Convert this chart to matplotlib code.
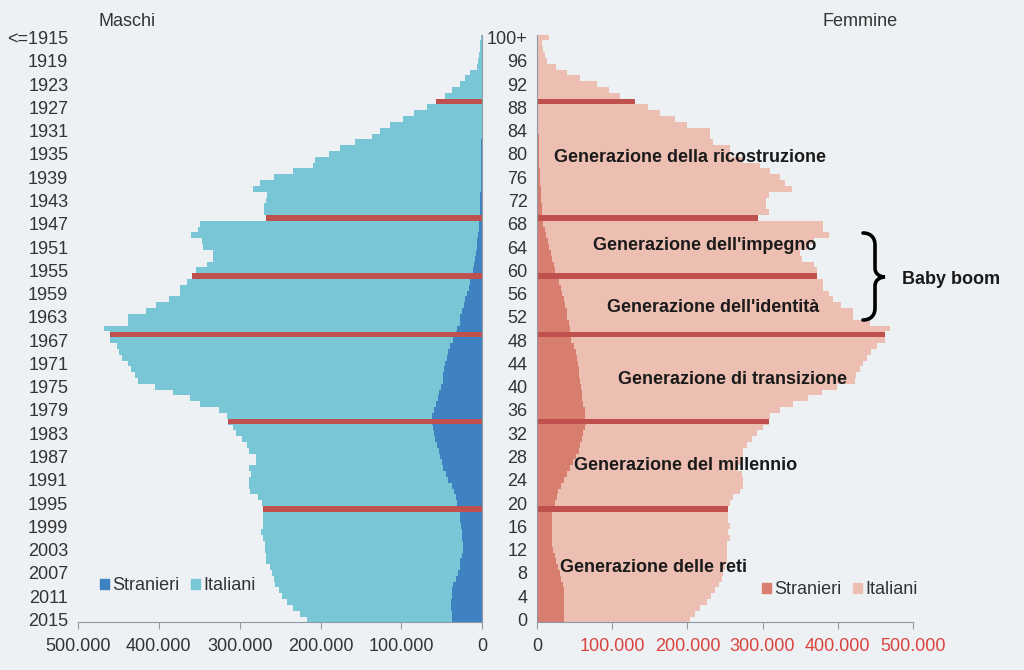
import matplotlib
matplotlib.use("Agg")
import matplotlib.pyplot as plt
from matplotlib.patches import Patch, PathPatch
from matplotlib.path import Path
from matplotlib.ticker import FuncFormatter

plt.rcParams['font.family'] = ['Liberation Sans', 'DejaVu Sans']

# eta' 0..100+ (valori in migliaia)
ages = list(range(101))

maschi_tot = [217, 225, 234, 242, 248, 252, 256, 258, 260, 263,
              267, 267, 269, 269, 271, 274, 271, 271, 271, 271,
              273, 277, 287, 289, 289, 286, 289, 280, 280, 288,
              291, 297, 304, 308, 315, 316, 326, 349, 361, 383,
              405, 426, 429, 435, 438, 445, 449, 452, 461, 461,
              468, 438, 438, 416, 403, 388, 374, 374, 365, 359,
              354, 340, 333, 333, 346, 347, 360, 351, 349, 267,
              270, 270, 268, 266, 284, 275, 258, 234, 209, 207,
              190, 176, 157, 137, 126, 114, 98, 85, 69, 57,
              46, 38, 28, 21, 15, 7, 5, 4, 3, 2.5, 2]

maschi_str = [38, 38, 39, 39, 38, 37, 36, 33, 30, 28,
              27, 25, 24, 24, 25, 25, 26, 27, 28, 30,
              31, 33, 35, 38, 42, 45, 48, 50, 52, 54,
              56, 58, 60, 61, 62, 62, 60, 57, 55, 53,
              51, 49, 48, 47, 46, 44, 43, 40, 36, 33,
              31, 28, 27, 25, 23, 21, 19, 17, 15, 13,
              11, 10, 9, 8, 7, 6, 5.2, 4.5, 4, 3.5,
              3, 2.8, 2.5, 2.3, 2.1, 2, 1.8, 1.6, 1.4, 1.3,
              1.2, 1.1, 1, 0.9, 0.8, 0.7, 0.6, 0.5, 0.4, 0.4,
              0.3, 0.3, 0.2, 0.2, 0.1, 0.1, 0.1, 0.1, 0.1, 0.1, 0.1]

femmine_tot = [203, 210, 217, 226, 232, 237, 242, 246, 248, 250,
               252, 253, 252, 253, 256, 254, 256, 254, 254, 254,
               257, 261, 270, 274, 274, 272, 266, 272, 274, 274,
               279, 286, 292, 301, 309, 310, 323, 341, 361, 379,
               399, 423, 425, 430, 434, 439, 445, 452, 463, 463,
               470, 443, 421, 421, 405, 394, 388, 381, 381, 373,
               372, 368, 352, 350, 359, 368, 388, 381, 381, 294,
               308, 305, 305, 308, 339, 330, 323, 310, 297, 274,
               257, 257, 234, 230, 230, 199, 183, 163, 148, 130,
               110, 95, 79, 57, 39, 25, 13, 10, 8, 6, 15]

femmine_str = [36, 36, 36, 36, 36, 35, 34, 32, 30, 27,
               25, 23, 21, 20, 19, 19, 19, 19, 20, 22,
               24, 26, 28, 31, 35, 40, 44, 48, 52, 55,
               57, 59, 61, 63, 65, 64, 63, 61, 60, 59,
               58, 57, 56, 55, 54, 53, 51, 49, 45, 44,
               43, 42, 40, 39, 37, 35, 33, 32, 29, 26,
               23.5, 22, 20, 18, 16, 14, 12, 10, 8, 7,
               6.5, 6, 5.5, 5, 4.5, 4, 3.6, 3.2, 2.8, 2.5,
               2.2, 2, 1.8, 1.6, 1.4, 1.2, 1, 0.9, 0.8, 0.7,
               0.6, 0.5, 0.4, 0.4, 0.3, 0.3, 0.2, 0.2, 0.2, 0.2, 0.2]

# primo anno di ogni generazione (eta' al 2016)
eta_confine = [89, 69, 59, 49, 34, 19]

generazioni = ["Generazione della ricostruzione", "Generazione dell'impegno",
               "Generazione dell'identità", "Generazione di transizione",
               "Generazione del millennio", "Generazione delle reti"]
gen_pos = [(690, 157), (705, 245), (713, 308), (733, 380), (686, 466), (653, 568)]

tick_ages = list(range(0, 101, 4))
x_ticks = [0, 100000, 200000, 300000, 400000, 500000]

bg = '#EEF1F4'
c_it_m = '#78C6D6'
c_str_m = '#3F82C2'
c_it_f = '#EDBFB2'
c_str_f = '#D77E6F'
c_red = '#C0504D'
c_axis = '#8D9AA4'
c_txt = '#333333'
c_red_txt = '#D9433E'

W, H = 1024, 670
fig = plt.figure(figsize=(W / 100, H / 100), dpi=100, facecolor=bg)

bottom = (H - 622.4) / H
height = (622.4 - 34.6) / H
axL = fig.add_axes([78 / W, bottom, (482.3 - 78) / W, height])
axR = fig.add_axes([537.3 / W, bottom, (912.7 - 537.3) / W, height])

k = 1000
mt = [v * k for v in maschi_tot]
ms = [v * k for v in maschi_str]
ft = [v * k for v in femmine_tot]
fs = [v * k for v in femmine_str]

axL.barh(ages, mt, height=1.0, color=c_it_m, linewidth=0)
axL.barh(ages, ms, height=1.0, color=c_str_m, linewidth=0)
axR.barh(ages, ft, height=1.0, color=c_it_f, linewidth=0)
axR.barh(ages, fs, height=1.0, color=c_str_f, linewidth=0)

axL.barh(eta_confine, [mt[a] for a in eta_confine], height=0.95, color=c_red, linewidth=0)
axR.barh(eta_confine, [ft[a] for a in eta_confine], height=0.95, color=c_red, linewidth=0)

fmt = FuncFormatter(lambda v, p: '0' if v == 0 else '{:,.0f}'.format(v).replace(',', '.'))

for ax in (axL, axR):
    ax.set_facecolor(bg)
    ax.set_ylim(-0.5, 100.5)
    ax.set_xticks(x_ticks)
    ax.xaxis.set_major_formatter(fmt)
    ax.spines['top'].set_visible(False)
    ax.spines['bottom'].set_color(c_axis)
    ax.tick_params(axis='x', direction='out', length=5, color=c_axis,
                   labelsize=13, labelcolor=c_txt, pad=6)
    ax.tick_params(axis='y', length=0, labelsize=13, labelcolor=c_txt, pad=7)
    ax.set_yticks(tick_ages)

axL.set_xlim(500000, 0)
axL.spines['left'].set_visible(False)
axL.spines['right'].set_color(c_axis)
axL.set_yticklabels(['<=1915' if a == 100 else str(2015 - a) for a in tick_ages])

axR.set_xlim(0, 500000)
axR.spines['right'].set_visible(False)
axR.spines['left'].set_color(c_axis)
axR.set_yticklabels(['100+' if a == 100 else str(a) for a in tick_ages])
for lab in axR.get_xticklabels()[1:]:
    lab.set_color(c_red_txt)

fig.text(98 / W, 1 - 22 / H, 'Maschi', fontsize=13, color=c_txt, va='center')
fig.text(822 / W, 1 - 22 / H, 'Femmine', fontsize=13, color=c_txt, va='center')

for name, (px, py) in zip(generazioni, gen_pos):
    fig.text(px / W, 1 - py / H, name, fontsize=13, fontweight='bold',
             color='#1a1a1a', ha='center', va='center')

fig.text(902 / W, 1 - 280 / H, 'Baby boom', fontsize=13, fontweight='bold',
         color='#1a1a1a', va='center')

# parentesi graffa
pts = [(863, 233), (870, 233), (875, 237), (875, 245),
       (875, 268),
       (875, 274), (880, 277), (885, 277),
       (880, 277), (875, 280), (875, 286),
       (875, 308),
       (875, 316), (870, 320), (863, 320)]
codes = [Path.MOVETO, Path.CURVE4, Path.CURVE4, Path.CURVE4,
         Path.LINETO,
         Path.CURVE4, Path.CURVE4, Path.CURVE4,
         Path.CURVE4, Path.CURVE4, Path.CURVE4,
         Path.LINETO,
         Path.CURVE4, Path.CURVE4, Path.CURVE4]
verts = [(x / W, 1 - y / H) for x, y in pts]
fig.add_artist(PathPatch(Path(verts, codes), transform=fig.transFigure,
                         fill=False, lw=2.6, edgecolor='black', capstyle='round'))

legL = [Patch(color=c_str_m), Patch(color=c_it_m)]
fig.legend(legL, ['Stranieri', 'Italiani'], ncol=2, frameon=False, fontsize=13,
           loc='center left', bbox_to_anchor=(100 / W, 1 - 586 / H),
           handlelength=0.5, handleheight=0.5, handletextpad=0.2,
           columnspacing=0.6, borderpad=0, borderaxespad=0, labelcolor=c_txt)
legR = [Patch(color=c_str_f), Patch(color=c_it_f)]
fig.legend(legR, ['Stranieri', 'Italiani'], ncol=2, frameon=False, fontsize=13,
           loc='center left', bbox_to_anchor=(762 / W, 1 - 590 / H),
           handlelength=0.5, handleheight=0.5, handletextpad=0.2,
           columnspacing=0.6, borderpad=0, borderaxespad=0, labelcolor=c_txt)

fig.savefig('out.png', dpi=100, facecolor=bg)
